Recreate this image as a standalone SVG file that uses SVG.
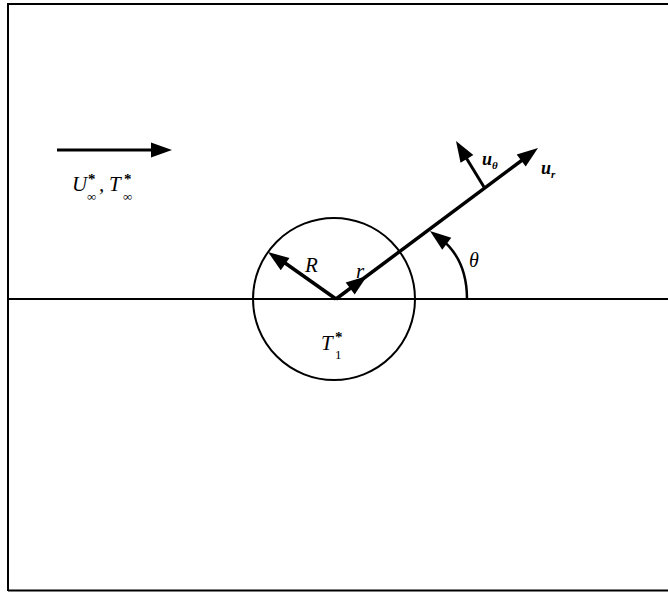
<svg xmlns="http://www.w3.org/2000/svg" xmlns:xlink="http://www.w3.org/1999/xlink" width="668" height="593" viewBox="0 0 668 593">
<style>
.ln{stroke:#000;fill:none;stroke-linecap:butt}
.lbl{font-family:"Liberation Serif","Times New Roman",serif;font-style:italic;fill:#000}
.b{font-weight:bold}
.st{font-family:"Liberation Serif","Times New Roman",serif;font-weight:bold;font-size:15px;fill:#000}
.sub{font-family:"Liberation Serif","Times New Roman",serif;font-size:13px;fill:#000}
</style>
<defs>
<path id="ah" d="M0,0 L-21,-7.5 L-21,7.5 Z" fill="#000"/>
</defs>
<rect width="668" height="593" fill="#fff"/>
<g id="frame">
<path class="ln" stroke-width="2" d="M8,591 L8,4 L668,4 M8,590.5 L668,590.5"/>
</g>
<g id="connectors">
<line class="ln" stroke-width="2" x1="8" y1="299" x2="668" y2="299"/>
<line class="ln" stroke-width="3" x1="57" y1="150" x2="160" y2="150"/>
<use xlink:href="#ah" transform="translate(172,150)"/>
<line class="ln" stroke-width="3.5" x1="336" y1="299" x2="278" y2="258"/>
<use xlink:href="#ah" transform="translate(268,252) rotate(-144.5)"/>
<line class="ln" stroke-width="3.5" x1="336" y1="299" x2="529" y2="155"/>
<use xlink:href="#ah" transform="translate(538,148) rotate(-36.8)"/>
<use xlink:href="#ah" transform="translate(367,276) rotate(-36.8)"/>
<line class="ln" stroke-width="3" x1="484" y1="187" x2="462" y2="151"/>
<use xlink:href="#ah" transform="translate(456,141) rotate(-121.5)"/>
<path class="ln" stroke-width="2.5" d="M467,299 C467,272 458,252 440,238"/>
<use xlink:href="#ah" transform="translate(430,231) rotate(-143)"/>
</g>
<g id="circle">
<circle class="ln" stroke-width="2" cx="334" cy="299" r="81"/>
</g>
<g id="labels">
<text class="lbl" x="72" y="191" font-size="21">U</text>
<text class="st" x="88" y="184">*</text>
<text class="sub" x="87" y="201">∞</text>
<text class="lbl" x="99" y="191" font-size="21">,</text>
<text class="lbl" x="109" y="191" font-size="21">T</text>
<text class="st" x="124" y="184">*</text>
<text class="sub" x="123" y="201">∞</text>
<text class="lbl" x="305" y="272" font-size="21">R</text>
<text class="lbl" x="356" y="278" font-size="21">r</text>
<text class="lbl" x="321" y="350" font-size="21">T</text>
<text class="st" x="335" y="342">*</text>
<text class="sub" x="335" y="359">1</text>
<text class="lbl" x="469" y="267" font-size="20">θ</text>
<text class="lbl b" x="541" y="174" font-size="18">u</text>
<text class="lbl b" x="551" y="178" font-size="11">r</text>
<text class="lbl b" x="482" y="165" font-size="18">u</text>
<text class="lbl b" x="492" y="169" font-size="11">θ</text>
</g>
</svg>
